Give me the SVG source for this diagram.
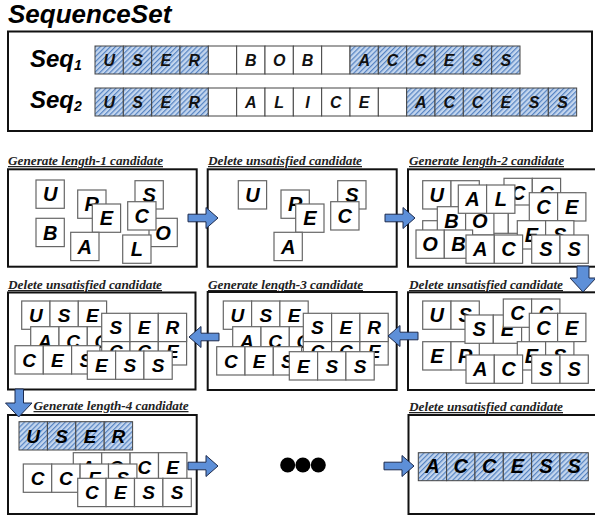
<svg xmlns="http://www.w3.org/2000/svg" width="595" height="518" viewBox="0 0 595 518">
  <defs>
    <pattern id="hatch" width="3.6" height="3.6" patternUnits="userSpaceOnUse" patternTransform="rotate(45)">
      <rect width="3.6" height="3.6" fill="#c4d6ee"/>
      <line x1="0.6" y1="0" x2="0.6" y2="3.6" stroke="#5583c2" stroke-width="1.2"/>
    </pattern>
    <path id="arrow" d="M0,-3.8 H18 V-10.5 L30,0 L18,10.5 V3.8 H0 Z"/>
    <style>
      .pnl { fill: #fff; stroke: #111; stroke-width: 2; }
      .cell { fill: #fff; stroke: #666; stroke-width: 1.2; }
      .hcell { fill: url(#hatch); stroke: #444; stroke-width: 1; }
      .seqcell { fill: #fff; stroke: #444; stroke-width: 1; }
      .lt { font-family: "Liberation Sans", Arial, sans-serif; font-weight: bold; font-style: italic; text-anchor: middle; fill: #000; font-size: 20px; }
      .lt19 { font-size: 19px; }
      .ls { font-family: "Liberation Sans", Arial, sans-serif; font-weight: bold; font-style: italic; text-anchor: middle; fill: #111; font-size: 16px; }
      .lbl { font-family: "Liberation Serif", "Times New Roman", serif; font-weight: bold; font-style: italic; font-size: 12.5px; text-decoration: underline; fill: #222; }
      .ttl { font-family: "Liberation Sans", Arial, sans-serif; font-weight: bold; font-style: italic; fill: #000; }
      .arr { fill: #5d8fd8; stroke: #1d2b4d; stroke-width: 1; }
    </style>
  </defs>

  <!-- title and sequence set -->
  <g id="sequence-set">
    <text class="ttl" x="8" y="23" font-size="26">SequenceSet</text>
    <rect class="pnl" x="8" y="31.5" width="584" height="99.5"/>
    <text class="ttl" x="30" y="67" font-size="24">Seq<tspan font-size="14" dy="3">1</tspan></text>
    <text class="ttl" x="30" y="108" font-size="24">Seq<tspan font-size="14" dy="3">2</tspan></text>
  </g>

  <g id="seq1" transform="translate(95,46)">
    <rect class="hcell" x="0" y="0" width="28.33" height="28"/>
    <rect class="hcell" x="28.33" y="0" width="28.33" height="28"/>
    <rect class="hcell" x="56.67" y="0" width="28.33" height="28"/>
    <rect class="hcell" x="85" y="0" width="28.33" height="28"/>
    <rect class="seqcell" x="113.33" y="0" width="28.33" height="28"/>
    <rect class="seqcell" x="141.67" y="0" width="28.33" height="28"/>
    <rect class="seqcell" x="170" y="0" width="28.33" height="28"/>
    <rect class="seqcell" x="198.33" y="0" width="28.33" height="28"/>
    <rect class="seqcell" x="226.67" y="0" width="28.33" height="28"/>
    <rect class="hcell" x="255" y="0" width="28.33" height="28"/>
    <rect class="hcell" x="283.33" y="0" width="28.33" height="28"/>
    <rect class="hcell" x="311.67" y="0" width="28.33" height="28"/>
    <rect class="hcell" x="340" y="0" width="28.33" height="28"/>
    <rect class="hcell" x="368.33" y="0" width="28.33" height="28"/>
    <rect class="hcell" x="396.67" y="0" width="28.33" height="28"/>
    <text class="ls" x="14.17" y="19.8">U</text>
    <text class="ls" x="42.5" y="19.8">S</text>
    <text class="ls" x="70.83" y="19.8">E</text>
    <text class="ls" x="99.17" y="19.8">R</text>
    <text class="ls" x="155.83" y="19.8">B</text>
    <text class="ls" x="184.17" y="19.8">O</text>
    <text class="ls" x="212.5" y="19.8">B</text>
    <text class="ls" x="269.17" y="19.8">A</text>
    <text class="ls" x="297.5" y="19.8">C</text>
    <text class="ls" x="325.83" y="19.8">C</text>
    <text class="ls" x="354.17" y="19.8">E</text>
    <text class="ls" x="382.5" y="19.8">S</text>
    <text class="ls" x="410.83" y="19.8">S</text>
  </g>

  <g id="seq2" transform="translate(95,88)">
    <rect class="hcell" x="0" y="0" width="28.33" height="28"/>
    <rect class="hcell" x="28.33" y="0" width="28.33" height="28"/>
    <rect class="hcell" x="56.67" y="0" width="28.33" height="28"/>
    <rect class="hcell" x="85" y="0" width="28.33" height="28"/>
    <rect class="seqcell" x="113.33" y="0" width="28.33" height="28"/>
    <rect class="seqcell" x="141.67" y="0" width="28.33" height="28"/>
    <rect class="seqcell" x="170" y="0" width="28.33" height="28"/>
    <rect class="seqcell" x="198.33" y="0" width="28.33" height="28"/>
    <rect class="seqcell" x="226.67" y="0" width="28.33" height="28"/>
    <rect class="seqcell" x="255" y="0" width="28.33" height="28"/>
    <rect class="seqcell" x="283.33" y="0" width="28.33" height="28"/>
    <rect class="hcell" x="311.67" y="0" width="28.33" height="28"/>
    <rect class="hcell" x="340" y="0" width="28.33" height="28"/>
    <rect class="hcell" x="368.33" y="0" width="28.33" height="28"/>
    <rect class="hcell" x="396.67" y="0" width="28.33" height="28"/>
    <rect class="hcell" x="425" y="0" width="28.33" height="28"/>
    <rect class="hcell" x="453.33" y="0" width="28.33" height="28"/>
    <text class="ls" x="14.17" y="19.8">U</text>
    <text class="ls" x="42.5" y="19.8">S</text>
    <text class="ls" x="70.83" y="19.8">E</text>
    <text class="ls" x="99.17" y="19.8">R</text>
    <text class="ls" x="155.83" y="19.8">A</text>
    <text class="ls" x="184.17" y="19.8">L</text>
    <text class="ls" x="212.5" y="19.8">I</text>
    <text class="ls" x="240.83" y="19.8">C</text>
    <text class="ls" x="269.17" y="19.8">E</text>
    <text class="ls" x="325.83" y="19.8">A</text>
    <text class="ls" x="354.17" y="19.8">C</text>
    <text class="ls" x="382.5" y="19.8">C</text>
    <text class="ls" x="410.83" y="19.8">E</text>
    <text class="ls" x="439.17" y="19.8">S</text>
    <text class="ls" x="467.5" y="19.8">S</text>
  </g>

  <!-- step 1: length-1 candidates -->
  <g id="gen1">
    <text class="lbl" x="8" y="165" textLength="155" lengthAdjust="spacingAndGlyphs">Generate length-1 candidate</text>
    <rect class="pnl" x="8" y="169.3" width="188.7" height="97.4"/>
    <g transform="translate(36,180)"><rect class="cell" width="28.3" height="28.3"/><text class="lt" x="14.15" y="21.3">U</text></g>
    <g transform="translate(36,218.3)"><rect class="cell" width="28.3" height="28.3"/><text class="lt" x="14.15" y="21.3">B</text></g>
    <g transform="translate(77.7,190)"><rect class="cell" width="28.3" height="28.3"/><text class="lt" x="14.15" y="21.3">R</text></g>
    <g transform="translate(92.3,204)"><rect class="cell" width="28.3" height="28.3"/><text class="lt" x="14.15" y="21.3">E</text></g>
    <g transform="translate(70.7,232.3)"><rect class="cell" width="28.3" height="28.3"/><text class="lt" x="14.15" y="21.3">A</text></g>
    <g transform="translate(135,180.7)"><rect class="cell" width="28.3" height="28.3"/><text class="lt" x="14.15" y="21.3">S</text></g>
    <g transform="translate(149,218.3)"><rect class="cell" width="28.3" height="28.3"/><text class="lt" x="14.15" y="21.3">O</text></g>
    <g transform="translate(127.7,201.7)"><rect class="cell" width="28.3" height="28.3"/><text class="lt" x="14.15" y="21.3">C</text></g>
    <g transform="translate(122.7,235)"><rect class="cell" width="28.3" height="28.3"/><text class="lt" x="14.15" y="21.3">L</text></g>
  </g>

  <!-- step 2: pruned length-1 -->
  <g id="del1">
    <text class="lbl" x="208" y="165" textLength="154" lengthAdjust="spacingAndGlyphs">Delete unsatisfied candidate</text>
    <rect class="pnl" x="207.7" y="169.3" width="189" height="97.4"/>
    <g transform="translate(238.3,180.7)"><rect class="cell" width="28.3" height="28.3"/><text class="lt" x="14.15" y="21.3">U</text></g>
    <g transform="translate(281,190)"><rect class="cell" width="28.3" height="28.3"/><text class="lt" x="14.15" y="21.3">R</text></g>
    <g transform="translate(295.7,204)"><rect class="cell" width="28.3" height="28.3"/><text class="lt" x="14.15" y="21.3">E</text></g>
    <g transform="translate(274,232.3)"><rect class="cell" width="28.3" height="28.3"/><text class="lt" x="14.15" y="21.3">A</text></g>
    <g transform="translate(337.7,180.7)"><rect class="cell" width="28.3" height="28.3"/><text class="lt" x="14.15" y="21.3">S</text></g>
    <g transform="translate(330.7,201.7)"><rect class="cell" width="28.3" height="28.3"/><text class="lt" x="14.15" y="21.3">C</text></g>
  </g>

  <!-- step 3: length-2 candidates -->
  <g id="gen2">
    <text class="lbl" x="409" y="165" textLength="155" lengthAdjust="spacingAndGlyphs">Generate length-2 candidate</text>
    <rect class="pnl" x="408" y="169.3" width="200" height="97.4"/>
    <g transform="translate(504,178.3)"><rect class="cell" width="28.3" height="28.3"/><rect class="cell" x="28.3" width="28.3" height="28.3"/><text class="lt" x="14.15" y="21.3">C</text><text class="lt" x="42.45" y="21.3">C</text></g>
    <g transform="translate(422.7,180.7)"><rect class="cell" width="28.3" height="28.3"/><rect class="cell" x="28.3" width="28.3" height="28.3"/><text class="lt" x="14.15" y="21.3">U</text><text class="lt" x="42.45" y="21.3">S</text></g>
    <g transform="translate(422.7,220.7)"><rect class="cell" width="28.3" height="28.3"/><rect class="cell" x="28.3" width="28.3" height="28.3"/></g>
    <g transform="translate(480,205)"><rect class="cell" width="28.3" height="28.3"/><rect class="cell" x="28.3" width="28.3" height="28.3"/></g>
    <g transform="translate(437.3,206.7)"><rect class="cell" width="28.3" height="28.3"/><rect class="cell" x="28.3" width="28.3" height="28.3"/><text class="lt" x="14.15" y="21.3">B</text><text class="lt" x="42.45" y="21.3">O</text></g>
    <g transform="translate(458.3,185)"><rect class="cell" width="28.3" height="28.3"/><rect class="cell" x="28.3" width="28.3" height="28.3"/><text class="lt" x="14.15" y="21.3">A</text><text class="lt" x="42.45" y="21.3">L</text></g>
    <g transform="translate(529.3,192.7)"><rect class="cell" width="28.3" height="28.3"/><rect class="cell" x="28.3" width="28.3" height="28.3"/><text class="lt" x="14.15" y="21.3">C</text><text class="lt" x="42.45" y="21.3">E</text></g>
    <g transform="translate(517.3,220.7)"><rect class="cell" width="28.3" height="28.3"/><rect class="cell" x="28.3" width="28.3" height="28.3"/><text class="lt" x="14.15" y="21.3">E</text><text class="lt" x="42.45" y="21.3">S</text></g>
    <g transform="translate(416,230)"><rect class="cell" width="28.3" height="28.3"/><rect class="cell" x="28.3" width="28.3" height="28.3"/><text class="lt" x="14.15" y="21.3">O</text><text class="lt" x="42.45" y="21.3">B</text></g>
    <g transform="translate(466,235)"><rect class="cell" width="28.3" height="28.3"/><rect class="cell" x="28.3" width="28.3" height="28.3"/><text class="lt" x="14.15" y="21.3">A</text><text class="lt" x="42.45" y="21.3">C</text></g>
    <g transform="translate(531.7,235)"><rect class="cell" width="28.3" height="28.3"/><rect class="cell" x="28.3" width="28.3" height="28.3"/><text class="lt" x="14.15" y="21.3">S</text><text class="lt" x="42.45" y="21.3">S</text></g>
  </g>

  <!-- step 4: pruned length-2 -->
  <g id="del2">
    <text class="lbl" x="409" y="289" textLength="154" lengthAdjust="spacingAndGlyphs">Delete unsatisfied candidate</text>
    <rect class="pnl" x="408" y="292.3" width="200" height="97.7"/>
    <g transform="translate(422.7,301)"><rect class="cell" width="28.3" height="28.3"/><rect class="cell" x="28.3" width="28.3" height="28.3"/><text class="lt" x="14.15" y="21.3">U</text><text class="lt" x="42.45" y="21.3">S</text></g>
    <g transform="translate(422.7,341.7)"><rect class="cell" width="28.3" height="28.3"/><rect class="cell" x="28.3" width="28.3" height="28.3"/><text class="lt" x="14.15" y="21.3">E</text><text class="lt" x="42.45" y="21.3">R</text></g>
    <g transform="translate(465,315)"><rect class="cell" width="28.3" height="28.3"/><rect class="cell" x="28.3" width="28.3" height="28.3"/><text class="lt" x="14.15" y="21.3">S</text><text class="lt" x="42.45" y="21.3">E</text></g>
    <g transform="translate(503.3,299)"><rect class="cell" width="28.3" height="28.3"/><rect class="cell" x="28.3" width="28.3" height="28.3"/><text class="lt" x="14.15" y="21.3">C</text><text class="lt" x="42.45" y="21.3">C</text></g>
    <g transform="translate(529.3,313.3)"><rect class="cell" width="28.3" height="28.3"/><rect class="cell" x="28.3" width="28.3" height="28.3"/><text class="lt" x="14.15" y="21.3">C</text><text class="lt" x="42.45" y="21.3">E</text></g>
    <g transform="translate(517.3,341.7)"><rect class="cell" width="28.3" height="28.3"/><rect class="cell" x="28.3" width="28.3" height="28.3"/><text class="lt" x="14.15" y="21.3">E</text><text class="lt" x="42.45" y="21.3">S</text></g>
    <g transform="translate(466,355)"><rect class="cell" width="28.3" height="28.3"/><rect class="cell" x="28.3" width="28.3" height="28.3"/><text class="lt" x="14.15" y="21.3">A</text><text class="lt" x="42.45" y="21.3">C</text></g>
    <g transform="translate(531.7,355)"><rect class="cell" width="28.3" height="28.3"/><rect class="cell" x="28.3" width="28.3" height="28.3"/><text class="lt" x="14.15" y="21.3">S</text><text class="lt" x="42.45" y="21.3">S</text></g>
  </g>

  <!-- step 5: length-3 candidates -->
  <g id="gen3">
    <text class="lbl" x="208" y="289" textLength="155" lengthAdjust="spacingAndGlyphs">Generate length-3 candidate</text>
    <rect class="pnl" x="207.7" y="292" width="189" height="98"/>
    <g transform="translate(223.3,301)"><rect class="cell" width="28.3" height="28.3"/><rect class="cell" x="28.3" width="28.3" height="28.3"/><rect class="cell" x="56.6" width="28.3" height="28.3"/><text class="lt lt19" x="14.15" y="21">U</text><text class="lt lt19" x="42.45" y="21">S</text><text class="lt lt19" x="70.75" y="21">E</text></g>
    <g transform="translate(232.7,326.7)"><rect class="cell" width="28.3" height="28.3"/><rect class="cell" x="28.3" width="28.3" height="28.3"/><rect class="cell" x="56.6" width="28.3" height="28.3"/><text class="lt lt19" x="14.15" y="21">A</text><text class="lt lt19" x="42.45" y="21">C</text><text class="lt lt19" x="70.75" y="21">C</text></g>
    <g transform="translate(303.3,336.7)"><rect class="cell" width="28.3" height="28.3"/><rect class="cell" x="28.3" width="28.3" height="28.3"/><rect class="cell" x="56.6" width="28.3" height="28.3"/><text class="lt lt19" x="14.15" y="21">C</text><text class="lt lt19" x="42.45" y="21">C</text><text class="lt lt19" x="70.75" y="21">E</text></g>
    <g transform="translate(303.3,313.3)"><rect class="cell" width="28.3" height="28.3"/><rect class="cell" x="28.3" width="28.3" height="28.3"/><rect class="cell" x="56.6" width="28.3" height="28.3"/><text class="lt lt19" x="14.15" y="21">S</text><text class="lt lt19" x="42.45" y="21">E</text><text class="lt lt19" x="70.75" y="21">R</text></g>
    <g transform="translate(216.7,346.7)"><rect class="cell" width="28.3" height="28.3"/><rect class="cell" x="28.3" width="28.3" height="28.3"/><rect class="cell" x="56.6" width="28.3" height="28.3"/><text class="lt lt19" x="14.15" y="21">C</text><text class="lt lt19" x="42.45" y="21">E</text><text class="lt lt19" x="70.75" y="21">S</text></g>
    <g transform="translate(289.3,351.7)"><rect class="cell" width="28.3" height="28.3"/><rect class="cell" x="28.3" width="28.3" height="28.3"/><rect class="cell" x="56.6" width="28.3" height="28.3"/><text class="lt lt19" x="14.15" y="21">E</text><text class="lt lt19" x="42.45" y="21">S</text><text class="lt lt19" x="70.75" y="21">S</text></g>
  </g>

  <!-- step 6: pruned length-3 -->
  <g id="del3">
    <text class="lbl" x="8" y="289" textLength="154" lengthAdjust="spacingAndGlyphs">Delete unsatisfied candidate</text>
    <rect class="pnl" x="8" y="292.5" width="187.5" height="97"/>
    <g transform="translate(21.7,301)"><rect class="cell" width="28.3" height="28.3"/><rect class="cell" x="28.3" width="28.3" height="28.3"/><rect class="cell" x="56.6" width="28.3" height="28.3"/><text class="lt lt19" x="14.15" y="21">U</text><text class="lt lt19" x="42.45" y="21">S</text><text class="lt lt19" x="70.75" y="21">E</text></g>
    <g transform="translate(30.7,326.7)"><rect class="cell" width="28.3" height="28.3"/><rect class="cell" x="28.3" width="28.3" height="28.3"/><rect class="cell" x="56.6" width="28.3" height="28.3"/><text class="lt lt19" x="14.15" y="21">A</text><text class="lt lt19" x="42.45" y="21">C</text><text class="lt lt19" x="70.75" y="21">C</text></g>
    <g transform="translate(101.7,336.7)"><rect class="cell" width="28.3" height="28.3"/><rect class="cell" x="28.3" width="28.3" height="28.3"/><rect class="cell" x="56.6" width="28.3" height="28.3"/><text class="lt lt19" x="14.15" y="21">C</text><text class="lt lt19" x="42.45" y="21">C</text><text class="lt lt19" x="70.75" y="21">E</text></g>
    <g transform="translate(101.7,313.3)"><rect class="cell" width="28.3" height="28.3"/><rect class="cell" x="28.3" width="28.3" height="28.3"/><rect class="cell" x="56.6" width="28.3" height="28.3"/><text class="lt lt19" x="14.15" y="21">S</text><text class="lt lt19" x="42.45" y="21">E</text><text class="lt lt19" x="70.75" y="21">R</text></g>
    <g transform="translate(15,345.7)"><rect class="cell" width="28.3" height="28.3"/><rect class="cell" x="28.3" width="28.3" height="28.3"/><rect class="cell" x="56.6" width="28.3" height="28.3"/><text class="lt lt19" x="14.15" y="21">C</text><text class="lt lt19" x="42.45" y="21">E</text><text class="lt lt19" x="70.75" y="21">S</text></g>
    <g transform="translate(87.3,351)"><rect class="cell" width="28.3" height="28.3"/><rect class="cell" x="28.3" width="28.3" height="28.3"/><rect class="cell" x="56.6" width="28.3" height="28.3"/><text class="lt lt19" x="14.15" y="21">E</text><text class="lt lt19" x="42.45" y="21">S</text><text class="lt lt19" x="70.75" y="21">S</text></g>
  </g>

  <!-- step 7: length-4 candidates -->
  <g id="gen4">
    <text class="lbl" x="33.5" y="410" textLength="155" lengthAdjust="spacingAndGlyphs">Generate length-4 candidate</text>
    <rect class="pnl" x="8" y="415" width="188.7" height="99"/>
    <g transform="translate(19,421.7)"><rect class="hcell" width="28.4" height="28.3"/><rect class="hcell" x="28.4" width="28.4" height="28.3"/><rect class="hcell" x="56.8" width="28.4" height="28.3"/><rect class="hcell" x="85.2" width="28.4" height="28.3"/><text class="lt lt19" x="14.2" y="21">U</text><text class="lt lt19" x="42.6" y="21">S</text><text class="lt lt19" x="71" y="21">E</text><text class="lt lt19" x="99.4" y="21">R</text></g>
    <g transform="translate(73.3,452.7)"><rect class="cell" width="28.4" height="28.3"/><rect class="cell" x="28.4" width="28.4" height="28.3"/><rect class="cell" x="56.8" width="28.4" height="28.3"/><rect class="cell" x="85.2" width="28.4" height="28.3"/><text class="lt lt19" x="14.2" y="21">A</text><text class="lt lt19" x="42.6" y="21">C</text><text class="lt lt19" x="71" y="21">C</text><text class="lt lt19" x="99.4" y="21">E</text></g>
    <g transform="translate(23.3,464)"><rect class="cell" width="28.4" height="28.3"/><rect class="cell" x="28.4" width="28.4" height="28.3"/><rect class="cell" x="56.8" width="28.4" height="28.3"/><rect class="cell" x="85.2" width="28.4" height="28.3"/><text class="lt lt19" x="14.2" y="21">C</text><text class="lt lt19" x="42.6" y="21">C</text><text class="lt lt19" x="71" y="21">E</text><text class="lt lt19" x="99.4" y="21">S</text></g>
    <g transform="translate(77.7,478.3)"><rect class="cell" width="28.4" height="28.3"/><rect class="cell" x="28.4" width="28.4" height="28.3"/><rect class="cell" x="56.8" width="28.4" height="28.3"/><rect class="cell" x="85.2" width="28.4" height="28.3"/><text class="lt lt19" x="14.2" y="21">C</text><text class="lt lt19" x="42.6" y="21">E</text><text class="lt lt19" x="71" y="21">S</text><text class="lt lt19" x="99.4" y="21">S</text></g>
  </g>

  <!-- continuation dots -->
  <g id="ellipsis">
    <circle cx="287.7" cy="465" r="7.5" fill="#000"/>
    <circle cx="302.9" cy="465" r="7.5" fill="#000"/>
    <circle cx="318.3" cy="465" r="7.5" fill="#000"/>
  </g>

  <!-- final result -->
  <g id="result">
    <text class="lbl" x="409" y="411" textLength="154" lengthAdjust="spacingAndGlyphs">Delete unsatisfied candidate</text>
    <rect class="pnl" x="408.5" y="415" width="200" height="99"/>
    <g transform="translate(418.3,452.7)">
      <rect class="hcell" width="28.33" height="28"/><rect class="hcell" x="28.33" width="28.33" height="28"/><rect class="hcell" x="56.67" width="28.33" height="28"/><rect class="hcell" x="85" width="28.33" height="28"/><rect class="hcell" x="113.33" width="28.33" height="28"/><rect class="hcell" x="141.67" width="28.33" height="28"/>
      <text class="lt" font-size="18" x="14.17" y="20.5">A</text><text class="lt" font-size="18" x="42.5" y="20.5">C</text><text class="lt" font-size="18" x="70.83" y="20.5">C</text><text class="lt" font-size="18" x="99.17" y="20.5">E</text><text class="lt" font-size="18" x="127.5" y="20.5">S</text><text class="lt" font-size="18" x="155.83" y="20.5">S</text>
    </g>
  </g>

  <!-- flow arrows -->
  <g id="connectors" class="arr">
    <use href="#arrow" transform="translate(188,218)"/>
    <use href="#arrow" transform="translate(385,218)"/>
    <path d="M577,266 H589 V278 H596 L583,292 L570,278 H577 Z"/>
    <use href="#arrow" transform="translate(418,336) scale(-1,1)"/>
    <use href="#arrow" transform="translate(219,337) scale(-1,1)"/>
    <path d="M15,389 H23.5 V403 H32 L18.7,417 L5.5,403 H15 Z"/>
    <use href="#arrow" transform="translate(188,466)"/>
    <use href="#arrow" transform="translate(384,466)"/>
  </g>
</svg>
